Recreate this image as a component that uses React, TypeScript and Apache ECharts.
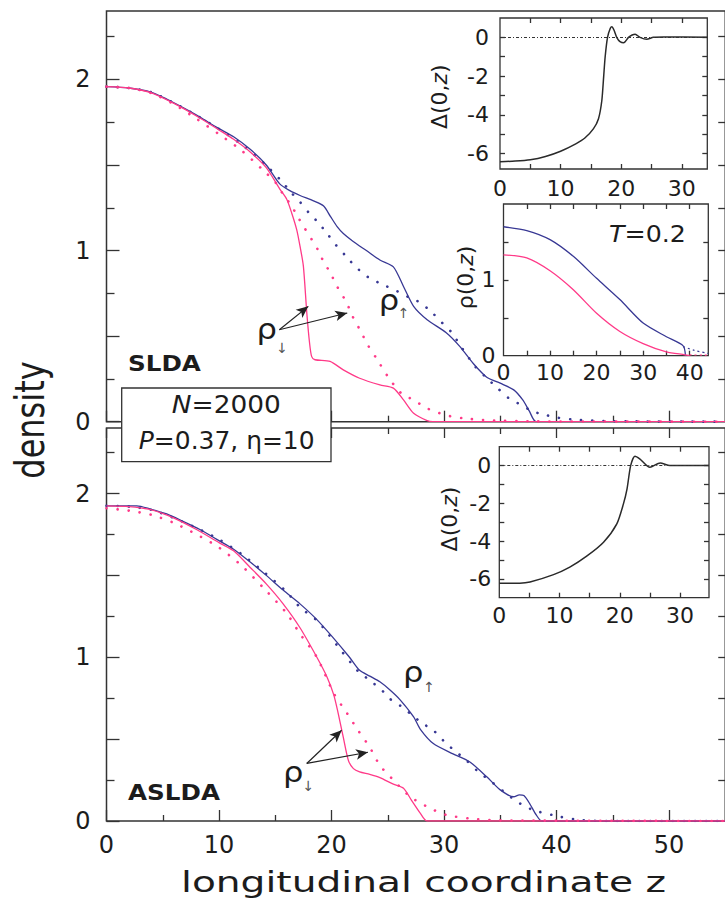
import React, { useEffect, useRef } from 'react';
import * as echarts from 'echarts';

const FONT = '"DejaVu Sans", "Open Sans", sans-serif';
const ARROW_FONT = '"DejaVu Sans", "Liberation Sans", sans-serif';
const INK = '#1c1c1c';
const BLUE = '#383894';
const PINK = '#ff3a88';

// ---- tick / label values ----
const zLabels = [0, 10, 20, 30, 40, 50];
const zMinor = [5, 15, 25, 35, 45];
const rhoLabels = [0, 1, 2];
const rhoMajor = [0, 0.5, 1, 1.5, 2];
const rhoMinor = [0.25, 0.75, 1.25, 1.75, 2.25];
const rhoRight = [0.25, 0.5, 0.75, 1, 1.25, 1.5, 1.75, 2, 2.25];
const gapLabels = [0, -2, -4, -6];
const gapTicks = [-6, -5, -4, -3, -2, -1, 0];
const insetZLabels = [0, 10, 20, 30];
const insetZTicks = [5, 10, 15, 20, 25, 30];
const insetRhoZLabels = [0, 10, 20, 30, 40];
const insetRhoZTicks = [5, 10, 15, 20, 25, 30, 35, 40];
const insetRhoLabels = [0, 1];
const insetRhoTicks = [0.5, 1, 1.5];

// ---- SLDA (top panel) ----
const sldaUpSolid = [[0,1.958],[2,1.95],[4,1.925],[5.35,1.885],[6.8,1.835],[8.3,1.78],[9.8,1.72],[11.3,1.665],[12.8,1.59],[14.2,1.5],[15.4,1.39],[16.3,1.35],[17.2,1.322],[18.4,1.29],[19.3,1.26],[19.9,1.2],[20.5,1.14],[21.05,1.1],[21.9,1.055],[23.1,1.0],[24.3,0.945],[25.5,0.905],[26.4,0.79],[27.3,0.674],[28.5,0.596],[30.2,0.52],[31.4,0.44],[32.6,0.34],[33.8,0.26],[35,0.225],[36.2,0.186],[37,0.127],[37.6,0.06],[38.2,0],[55,0]];
const sldaUpDotted = [[0,1.958],[2,1.95],[4,1.925],[6,1.862],[8,1.79],[10,1.71],[12,1.62],[14,1.51],[15.5,1.41],[16.4,1.34],[17.2,1.284],[18,1.22],[18.83,1.163],[19.63,1.098],[20.4,1.032],[21.29,0.967],[22.18,0.903],[23.27,0.844],[24.6,0.8],[25.6,0.77],[26.8,0.73],[27.9,0.695],[28.9,0.64],[29.8,0.58],[30.7,0.52],[31.4,0.45],[32.8,0.32],[33.8,0.255],[34.7,0.2],[35.7,0.14],[36.8,0.1],[37.9,0.06],[39,0.04],[40,0.024],[42,0.01],[45,0.003],[55,0]];
const sldaDownSolid = [[0,1.958],[2,1.95],[4,1.922],[6,1.86],[8.3,1.775],[10,1.705],[11.3,1.65],[12.8,1.575],[14.2,1.485],[15.42,1.358],[16.02,1.3],[16.46,1.22],[16.9,1.124],[17.2,1.026],[17.5,0.909],[17.8,0.64],[18.05,0.46],[18.24,0.38],[18.53,0.362],[19.87,0.352],[21.05,0.303],[22.5,0.254],[24.3,0.215],[25.5,0.196],[26.4,0.127],[27.3,0.049],[28.5,0.006],[29,0],[55,0]];
const sldaDownDotted = [[0,1.958],[2,1.95],[4,1.92],[6,1.855],[8,1.77],[10,1.68],[12,1.585],[14,1.465],[15,1.4],[15.7,1.329],[16.46,1.26],[17.05,1.192],[17.64,1.128],[18.24,1.065],[18.83,1.0],[19.27,0.938],[19.87,0.873],[20.5,0.79],[21.35,0.695],[21.8,0.625],[22.5,0.54],[23.3,0.44],[24,0.37],[25.05,0.26],[26.2,0.166],[27.3,0.127],[28.5,0.078],[29.6,0.05],[30.7,0.03],[31.7,0.02],[34,0.008],[38,0.002],[55,0]];

// ---- ASLDA (bottom panel) ----
const asldaUpSolid = [[0,1.925],[1.5,1.925],[2.7,1.925],[3.9,1.905],[5.35,1.875],[6.8,1.83],[8.3,1.78],[9.8,1.72],[11.3,1.66],[12.8,1.58],[14.2,1.5],[15.7,1.41],[17.2,1.326],[18.7,1.23],[20.1,1.123],[21.6,1.0],[22.5,0.92],[23.4,0.885],[24.3,0.85],[25.2,0.8],[26.1,0.74],[27.3,0.636],[27.9,0.56],[29.05,0.473],[30.8,0.41],[32.3,0.36],[33.8,0.27],[35,0.19],[36.2,0.148],[36.7,0.16],[37.1,0.155],[37.6,0.108],[38.2,0.037],[38.7,0],[55,0]];
const asldaUpDotted = [[0,1.925],[2,1.92],[4,1.9],[6,1.85],[8,1.79],[10,1.72],[12,1.63],[14,1.52],[16,1.4],[17.2,1.305],[18.7,1.225],[19.7,1.143],[20.75,1.05],[21.8,0.96],[22.5,0.905],[23.4,0.86],[24.6,0.79],[25.3,0.74],[26.2,0.7],[27.1,0.65],[28,0.6],[29.05,0.554],[30.2,0.473],[31.3,0.41],[32,0.37],[32.9,0.31],[34.4,0.23],[35.3,0.18],[36.3,0.128],[37,0.097],[38,0.065],[39.6,0.037],[40.3,0.026],[42.1,0.006],[45,0],[55,0]];
const asldaDownSolid = [[0,1.925],[2,1.92],[4,1.9],[6,1.85],[8,1.78],[10,1.7],[11.3,1.65],[12.75,1.55],[14.2,1.448],[15.7,1.326],[17.2,1.18],[18.7,1.0],[19.6,0.88],[20.2,0.77],[20.6,0.656],[21.05,0.51],[21.5,0.37],[21.95,0.32],[22.5,0.3],[23.4,0.285],[24.3,0.265],[25.5,0.225],[26.4,0.2],[27.1,0.128],[27.9,0.047],[28.5,0],[55,0]];
const asldaDownDotted = [[0,1.91],[2,1.895],[4,1.87],[6,1.82],[8,1.75],[10,1.67],[12,1.56],[14,1.42],[16,1.27],[17.2,1.143],[18.7,1.0],[20.2,0.78],[21.4,0.656],[22.3,0.56],[23.4,0.45],[24.3,0.34],[25.5,0.25],[27,0.148],[28.8,0.077],[30.2,0.037],[32.3,0.015],[35,0.004],[55,0]];

// ---- insets ----
const gapSlda = [[0,-6.42],[2.5,-6.39],[5,-6.32],[7.5,-6.15],[10,-5.88],[12.5,-5.5],[14,-5.2],[15.4,-4.73],[16.25,-4.2],[16.8,-3.26],[17.1,-2.04],[17.35,-1.0],[17.74,0],[18.2,0.47],[18.46,0.55],[18.8,0.38],[19.3,-0.03],[19.8,-0.22],[20.4,-0.28],[21.2,0],[21.8,0.12],[22.3,0.16],[23.1,0],[24.2,-0.1],[25.3,0],[27,0.02],[34.2,0]];
const gapAslda = [[0,-6.23],[3.4,-6.23],[5.1,-6.17],[9,-5.78],[11.7,-5.38],[14.5,-4.8],[17.3,-4.06],[19.5,-3.09],[20.6,-2.03],[21.2,-1.23],[21.8,0],[22.5,0.5],[23.3,0.36],[25,-0.09],[26.7,0.14],[28.3,0],[34.8,0]];
const tempUp = [[0,1.7],[5,1.65],[10,1.53],[15,1.31],[20,1.02],[25,0.74],[30,0.43],[35,0.25],[38.6,0.13],[39.1,0]];
const tempUpTail = [[38.6,0.12],[41,0.07],[44,0.03]];
const tempDown = [[0,1.33],[5,1.29],[10,1.12],[15,0.87],[20,0.56],[25,0.32],[30,0.16],[35,0.05],[39,0.012],[40,0]];
const tempDownTail = [[40,0.01],[44,0.008]];

const tickLine = { color: '#333', width: 1.3 };

function axis(gridIndex: number, position: string, min: number, max: number, ticks: number[], len: number, labels?: number[], size?: number, margin?: number) {
  return {
    type: 'value', gridIndex, position, min, max,
    axisLine: { show: false, onZero: false },
    splitLine: { show: false },
    axisTick: { show: true, inside: true, length: len, customValues: ticks, lineStyle: tickLine },
    axisLabel: labels
      ? { show: true, customValues: labels, fontFamily: FONT, fontSize: size, color: INK, margin }
      : { show: false },
  };
}

function line(data: number[][], x: number, y: number, color: string, dotted: boolean, width = 1.3): any {
  return {
    type: 'line', data, xAxisIndex: x, yAxisIndex: y, showSymbol: false, symbol: 'none',
    smooth: 0.25, silent: true,
    lineStyle: dotted ? { color, width: 2.6, type: [0.1, 11], cap: 'round' } : { color, width },
  };
}

function arrows(pairs: number[][][]) {
  return {
    silent: true, symbol: ['none', 'arrow'], symbolSize: [8, 12],
    label: { show: false },
    lineStyle: { color: '#222', width: 1.2, type: 'solid' },
    data: pairs.map(([a, b]) => [{ coord: a }, { coord: b }]),
  };
}

const zeroLine = {
  silent: true, symbol: 'none', label: { show: false },
  lineStyle: { color: '#333', width: 1, type: [3, 2, 1, 2] },
  data: [{ yAxis: 0 }],
};

function txt(x: number, y: number, text: string, size: number, extra: any = {}, styleExtra: any = {}) {
  return {
    type: 'text', x, y, z: 110, ...extra,
    style: {
      text, fontFamily: FONT, fontSize: size, fill: INK,
      align: 'center', textAlign: 'center', verticalAlign: 'middle', textVerticalAlign: 'middle',
      ...styleExtra,
    },
  };
}

function richTxt(x: number, y: number, text: string, size: number, extra: any = {}) {
  return txt(x, y, text, size, extra, {
    rich: {
      r: { fontFamily: FONT, fontSize: size, fill: INK },
      i: { fontFamily: FONT, fontSize: size, fill: INK, fontStyle: 'italic' },
    },
  });
}

const arrowStyle = { fill: '#555', fontFamily: ARROW_FONT };

export default function App() {
  const ref = useRef<HTMLDivElement>(null);
  useEffect(() => {
    if (!ref.current) return;
    const chart = echarts.init(ref.current, null, { renderer: 'svg' });
    const gridBase = { show: true, borderColor: '#333', borderWidth: 1.5, containLabel: false, outerBoundsMode: 'none' };
    const option: any = {
      animation: false,
      textStyle: { fontFamily: FONT },
      grid: [
        { ...gridBase, left: 106.5, top: 11, width: 618.75, height: 410.7, backgroundColor: 'transparent' },
        { ...gridBase, left: 106.5, top: 428, width: 618.75, height: 393, backgroundColor: 'transparent' },
        { ...gridBase, left: 500, top: 18, width: 207.3, height: 151, borderWidth: 1.3, backgroundColor: '#fff' },
        { ...gridBase, left: 503.5, top: 204, width: 204.8, height: 151.7, borderWidth: 1.3, backgroundColor: '#fff' },
        { ...gridBase, left: 499.3, top: 446.7, width: 209.7, height: 151, borderWidth: 1.3, backgroundColor: '#fff' },
      ],
      xAxis: [
        axis(0, 'bottom', 0, 55, zLabels, 11),
        axis(0, 'bottom', 0, 55, zMinor, 6),
        axis(1, 'bottom', 0, 55, zLabels, 11, zLabels, 24, 12),
        axis(1, 'bottom', 0, 55, zMinor, 6),
        axis(1, 'top', 0, 55, zLabels, 10),
        axis(1, 'top', 0, 55, zMinor, 6),
        axis(2, 'bottom', 0, 34.2, insetZTicks, 5, insetZLabels, 22, 8),
        axis(2, 'top', 0, 34.2, insetZTicks, 5),
        axis(3, 'bottom', 0, 44, insetRhoZTicks, 5, insetRhoZLabels, 22, 6),
        axis(3, 'top', 0, 44, insetRhoZTicks, 5),
        axis(4, 'bottom', 0, 34.8, insetZTicks, 5, insetZLabels, 22, 7),
        axis(4, 'top', 0, 34.8, insetZTicks, 5),
      ],
      yAxis: [
        axis(0, 'left', 0, 2.4, rhoMajor, 13, rhoLabels, 24, 16),
        axis(0, 'left', 0, 2.4, rhoMinor, 8),
        axis(0, 'right', 0, 2.4, rhoRight, 7),
        axis(1, 'left', 0, 2.4, rhoMajor, 13, rhoLabels, 24, 16),
        axis(1, 'left', 0, 2.4, rhoMinor, 8),
        axis(1, 'right', 0, 2.4, rhoRight, 7),
        axis(2, 'left', -6.8, 1, gapTicks, 5, gapLabels, 22, 11),
        axis(2, 'right', -6.8, 1, gapTicks, 5),
        axis(3, 'left', 0, 2, insetRhoTicks, 5, insetRhoLabels, 22, 8),
        axis(3, 'right', 0, 2, insetRhoTicks, 5),
        axis(4, 'left', -7, 1, gapTicks, 5, gapLabels, 22, 8),
        axis(4, 'right', -7, 1, gapTicks, 5),
      ],
      series: [
        line(sldaUpSolid, 0, 0, BLUE, false),
        line(sldaUpDotted, 0, 0, BLUE, true),
        line(sldaDownSolid, 0, 0, PINK, false),
        { ...line(sldaDownDotted, 0, 0, PINK, true), markLine: arrows([[[15.36, 0.5375], [17.94, 0.674]], [[15.36, 0.5375], [21.4, 0.635]]]) },
        line(asldaUpSolid, 2, 3, BLUE, false),
        line(asldaUpDotted, 2, 3, BLUE, true),
        line(asldaDownSolid, 2, 3, PINK, false),
        { ...line(asldaDownDotted, 2, 3, PINK, true), markLine: arrows([[[17.8, 0.3515], [20.9, 0.554]], [[17.8, 0.3515], [23.24, 0.42]]]) },
        { ...line(gapSlda, 6, 6, '#2a2a2a', false, 1.5), markLine: zeroLine },
        line(tempUp, 8, 8, BLUE, false),
        line(tempDown, 8, 8, PINK, false),
        { ...line(tempUpTail, 8, 8, BLUE, true), lineStyle: { color: BLUE, width: 1.2, type: [2, 3] } },
        { ...line(tempDownTail, 8, 8, PINK, true), lineStyle: { color: PINK, width: 1.2, type: [2, 3] } },
        { ...line(gapAslda, 10, 10, '#2a2a2a', false, 1.5), markLine: zeroLine },
      ],
      graphic: [
        txt(30, 420, 'density', 32, { rotation: Math.PI / 2, scaleY: 1.3 }),
        txt(423.5, 882, 'longitudinal coordinate z', 29, { scaleX: 1.35 }),
        txt(128, 363, 'SLDA', 22, { scaleX: 1.12 }, { fontWeight: 'bold', align: 'left', textAlign: 'left' }),
        txt(128, 792, 'ASLDA', 22, { scaleX: 1.12 }, { fontWeight: 'bold', align: 'left', textAlign: 'left' }),
        { type: 'rect', z: 105, shape: { x: 121.7, y: 388, width: 209.3, height: 73.7 }, style: { fill: '#fff', stroke: '#333', lineWidth: 1.3 } },
        richTxt(226.3, 405, '{i|N}{r|=2000}', 24, { scaleX: 1.1 }),
        richTxt(226.7, 441, '{i|P}{r|=0.37, η=10}', 24, { scaleX: 1.04 }),
        richTxt(647.5, 234, '{i|T}{r|=0.2}', 23, { scaleX: 1.1 }),
        richTxt(439, 96.7, '{r|Δ(0,}{i|z}{r|)}', 22, { rotation: Math.PI / 2 }),
        richTxt(465, 277.5, '{r|ρ(0,}{i|z}{r|)}', 22, { rotation: Math.PI / 2 }),
        richTxt(449, 519, '{r|Δ(0,}{i|z}{r|)}', 22, { rotation: Math.PI / 2 }),
        txt(266.7, 329, 'ρ', 28, { scaleX: 1.15 }),
        txt(282, 348, '↓', 14, {}, arrowStyle),
        txt(389, 300, 'ρ', 28, { scaleX: 1.15 }),
        txt(403.7, 312.5, '↑', 14, {}, arrowStyle),
        txt(413.3, 672.6, 'ρ', 28, { scaleX: 1.15 }),
        txt(429, 686.5, '↑', 14, {}, arrowStyle),
        txt(293.3, 772, 'ρ', 28, { scaleX: 1.15 }),
        txt(308.4, 786, '↓', 14, {}, arrowStyle),
      ],
    };
    chart.setOption(option);
    return () => chart.dispose();
  }, []);
  return <div ref={ref} style={{ position: 'absolute', left: 0, top: 0, width: 725, height: 904, background: '#fff' }} />;
}
